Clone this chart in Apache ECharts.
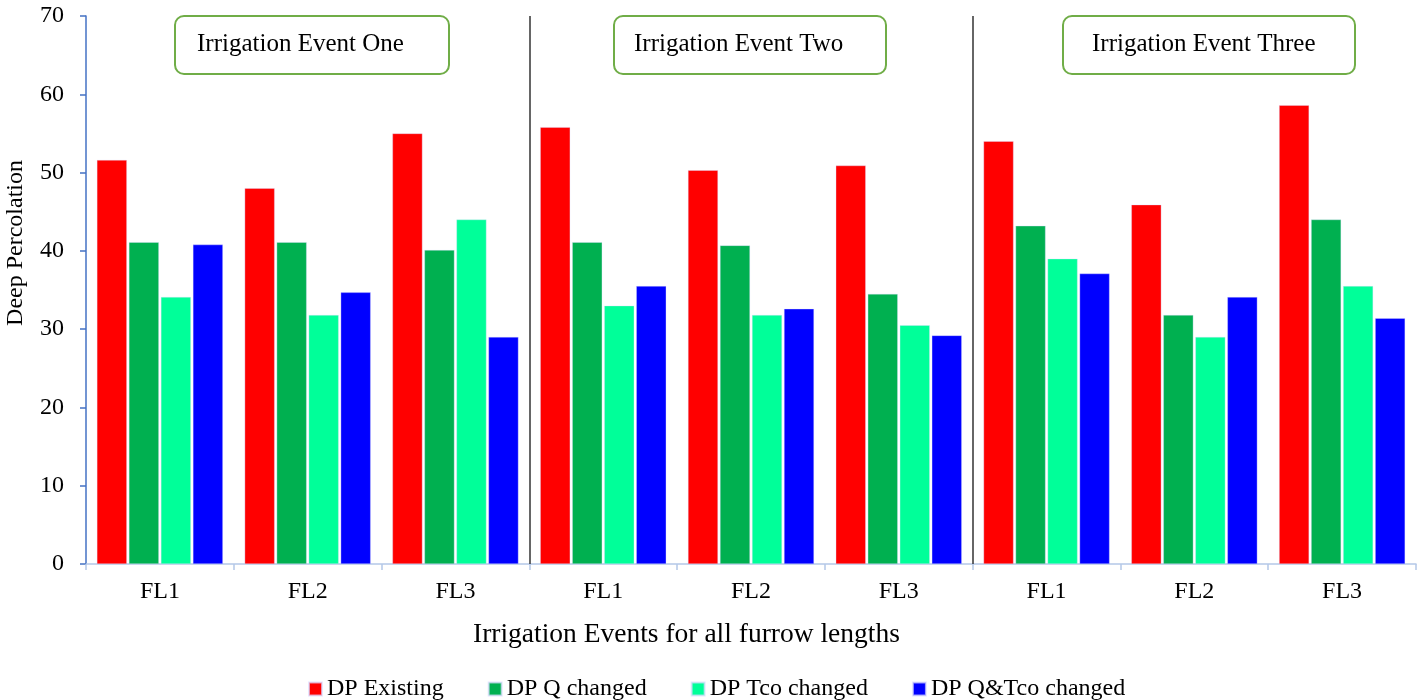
<!DOCTYPE html>
<html>
<head>
<meta charset="utf-8">
<script src="https://cdn.jsdelivr.net/npm/echarts@6/dist/echarts.min.js"></script>
<style>
html,body{margin:0;padding:0;background:#fff;}
#chart{width:1424px;height:700px;}
</style>
</head>
<body>
<div id="chart"></div>
<script>
var categories = ["FL1","FL2","FL3","FL1","FL2","FL3","FL1","FL2","FL3"];
var eventLabels = ["Irrigation Event One","Irrigation Event Two","Irrigation Event Three"];
var seriesNames = ["DP Existing","DP Q changed","DP Tco changed","DP Q&Tco changed"];
var dpExisting = [51.6, 48.0, 55.0, 55.8, 50.3, 50.9, 54.0, 45.9, 58.6];
var dpQChanged = [41.1, 41.1, 40.1, 41.1, 40.7, 34.5, 43.2, 31.8, 44.0];
var dpTcoChanged = [34.1, 31.8, 44.0, 33.0, 31.8, 30.5, 39.0, 29.0, 35.5];
var dpQTcoChanged = [40.8, 34.7, 29.0, 35.5, 32.6, 29.2, 37.1, 34.1, 31.4];
var eventBoundaries = [3, 6];
var yTicks = [0, 10, 20, 30, 40, 50, 60, 70];

var colors = ["#FF0000", "#00B050", "#00FF99", "#0000FF"];
var FONT = "Liberation Serif";
var allData = [dpExisting, dpQChanged, dpTcoChanged, dpQTcoChanged];

var chart = echarts.init(document.getElementById('chart'), null, {renderer: 'canvas'});

var series = seriesNames.map(function (name, i) {
  return {
    name: name,
    type: 'bar',
    data: allData[i],
    barWidth: 30,
    barGap: '6.7%',
    itemStyle: {color: colors[i], borderColor: 'rgba(220,220,255,0.7)', borderWidth: 0.5},
    emphasis: {disabled: true}
  };
});

series.push({
  name: 'separators',
  type: 'line',
  xAxisIndex: 1,
  yAxisIndex: 0,
  data: [],
  silent: true,
  markLine: {
    silent: true,
    symbol: ['none', 'none'],
    label: {show: false},
    lineStyle: {color: '#333', width: 1.5, type: 'solid'},
    emphasis: {disabled: true},
    data: eventBoundaries.map(function (b) { return {xAxis: b}; })
  }
});

function boxGraphic(idx, left, width, textPad) {
  return {
    type: 'group',
    left: left,
    top: 15,
    children: [
      {type: 'rect', shape: {x: 0, y: 0, width: width, height: 58, r: 9},
       style: {fill: '#fff', stroke: '#70AD47', lineWidth: 2}},
      {type: 'text', x: textPad, y: 28,
       style: {text: eventLabels[idx], font: '25px "Liberation Serif"', fill: '#000', verticalAlign: 'middle', textAlign: 'left'}}
    ]
  };
}

var option = {
  animation: false,
  backgroundColor: '#fff',
  color: colors,
  grid: {left: 86, right: 8, top: 16, bottom: 136, containLabel: false},
  legend: {
    data: seriesNames,
    left: 303,
    top: 672,
    itemWidth: 13,
    itemHeight: 13,
    itemGap: 44,
    icon: 'rect',
    textStyle: {fontFamily: FONT, fontSize: 24, color: '#000'}
  },
  xAxis: [{
    type: 'category',
    data: categories,
    boundaryGap: true,
    axisLine: {show: true, lineStyle: {color: '#B4C7E7', width: 1.5}},
    axisTick: {show: true, length: 6, alignWithLabel: false, lineStyle: {color: '#B4C7E7', width: 1.5}},
    axisLabel: {fontFamily: FONT, fontSize: 24, color: '#000', margin: 16, interval: 0},
    splitLine: {show: false}
  }, {
    type: 'value',
    min: 0,
    max: categories.length,
    show: false,
    position: 'bottom'
  }],
  yAxis: {
    type: 'value',
    min: 0,
    max: 70,
    interval: 10,
    axisLine: {show: true, lineStyle: {color: '#4472C4', width: 1.5}},
    axisTick: {show: true, length: 6, lineStyle: {color: '#4472C4', width: 1.5}},
    axisLabel: {fontFamily: FONT, fontSize: 24, color: '#000', margin: 22,
      formatter: function (v) { return yTicks.indexOf(v) >= 0 ? String(v) : ''; }},
    splitLine: {show: false}
  },
  graphic: [
    boxGraphic(0, 174, 274, 22),
    boxGraphic(1, 613, 272, 20),
    boxGraphic(2, 1062, 292, 29),
    {type: 'text', left: 4, top: 160, rotation: Math.PI / 2,
     style: {text: 'Deep Percolation', font: '24px "Liberation Serif"', fill: '#000'}},
    {type: 'text', left: 473, top: 621,
     style: {text: 'Irrigation Events for all furrow lengths', font: '27.5px "Liberation Serif"', fill: '#000'}}
  ],
  series: series
};

chart.setOption(option);
</script>
</body>
</html>
